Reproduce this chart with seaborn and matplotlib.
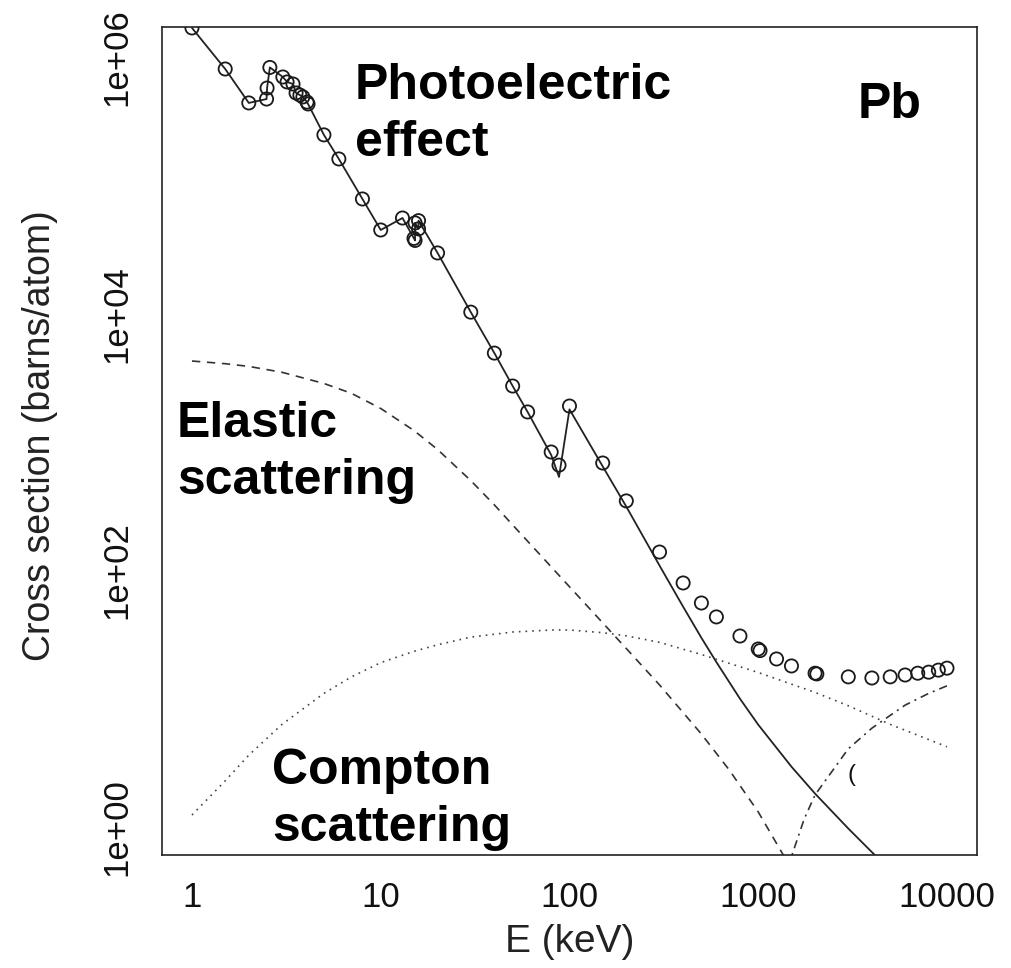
import matplotlib
matplotlib.use("Agg")
import matplotlib.pyplot as plt
from matplotlib.ticker import NullLocator
import seaborn as sns

# ---------------- data ----------------
# total attenuation (open circles), barns/atom
E_total = [1.0, 1.5, 2.0, 2.484, 2.5, 2.586, 3.03, 3.19, 3.43, 3.56, 3.73, 3.87,
           4.07, 4.12, 5, 6, 8, 10, 13.04, 15.0, 15.2, 15.2, 15.86, 15.86, 20,
           30, 40, 50, 60, 80, 88, 100, 150, 200, 300, 400, 500, 600, 800,
           1000, 1022, 1250, 1500, 2000, 2044, 3000, 4000, 5000, 6000, 7000,
           8000, 9000, 10000]
sigma_total = [1.69e6, 8.09e5, 4.40e5, 4.72e5, 5.75e5, 8.32e5, 7.01e5, 6.41e5,
               6.18e5, 5.26e5, 5.07e5, 4.90e5, 4.47e5, 4.32e5, 2.48e5, 1.61e5,
               7.85e4, 4.50e4, 5.58e4, 3.87e4, 3.73e4, 5.11e4, 4.59e4, 5.32e4,
               2.98e4, 1.03e4, 4940, 2735, 1718, 837, 661, 1910, 687, 348, 139,
               79.8, 55.7, 43.4, 30.8, 24.4, 23.7, 20.4, 18.0, 15.8, 15.6, 14.8,
               14.5, 14.8, 15.3, 15.8, 16.1, 16.7, 17.3]

# photoelectric effect (solid line)
E_photo = [1.0, 1.5, 2.0, 2.484, 2.5, 2.586, 3.03, 3.19, 3.43, 3.56, 3.73, 3.87,
           4.07, 4.12, 5, 6, 8, 10, 13.04, 15.0, 15.2, 15.2, 15.86, 15.86, 20,
           30, 40, 50, 60, 80, 88, 100, 150, 200, 300, 400, 500, 600, 800,
           1000, 1500, 2000, 3000, 4000, 5000]
sigma_photo = [1.69e6, 8.09e5, 4.40e5, 4.72e5, 5.75e5, 8.32e5, 7.01e5, 6.41e5,
               6.18e5, 5.26e5, 5.07e5, 4.90e5, 4.47e5, 4.32e5, 2.48e5, 1.61e5,
               7.85e4, 4.50e4, 5.58e4, 3.87e4, 3.73e4, 5.11e4, 4.59e4, 5.32e4,
               2.98e4, 1.03e4, 4940, 2735, 1718, 794, 535, 1800, 646, 314, 109,
               52.1, 29.8, 19.3, 10.0, 6.27, 2.95, 1.82, 0.973, 0.637, 0.461]

# elastic (Rayleigh) scattering (dashed line)
E_elastic = [1, 1.5, 2, 3, 5, 7, 10, 15, 20, 30, 40, 50, 70, 100, 150, 200,
             300, 500, 700, 1000, 1500]
sigma_elastic = [4285, 4083, 3890, 3499, 2864, 2399, 1828, 1230, 876, 501, 324,
                 226, 132, 74.6, 39.0, 24.6, 12.8, 5.30, 2.80, 1.31, 0.47]

# Compton scattering (dotted line)
E_compton = [1, 1.5, 2, 3, 5, 7, 10, 15, 20, 30, 50, 80, 100, 150, 200, 300,
             500, 1000, 2000, 3000, 5000, 7000, 10000]
sigma_compton = [1.24, 2.29, 3.63, 6.31, 11.0, 14.8, 19.1, 23.4, 26.3, 30.2,
                 33.1, 34.3, 34.3, 32.7, 30.9, 27.5, 22.1, 16.0, 11.2, 8.81,
                 6.31, 5.19, 4.22]

# pair production (dot-dash line)
E_pair = [1250, 1500, 1750, 2000, 3000, 4000, 5000, 6000, 8000, 10000]
sigma_pair = [0.10, 0.589, 1.15, 1.78, 4.07, 5.89, 7.41, 8.91, 11.0, 12.6]

x_ticks = [1, 10, 100, 1000, 10000]
x_tick_labels = ["1", "10", "100", "1000", "10000"]
y_ticks = [1, 1e2, 1e4, 1e6]
y_tick_labels = ["1e+00", "1e+02", "1e+04", "1e+06"]

# ---------------- figure ----------------
sns.set_style("white")
plt.rcParams['font.family'] = ['Liberation Sans', 'DejaVu Sans']

W, H = 1012, 968
fig = plt.figure(figsize=(W / 100, H / 100), dpi=100)
L, R, B, T = 162.5, 977, 855, 27
ax = fig.add_axes([L / W, 1 - B / H, (R - L) / W, (B - T) / H])
ax.set_xscale('log')
ax.set_yscale('log')

sns.lineplot(x=E_photo, y=sigma_photo, ax=ax, color='#222222', linewidth=1.3,
             estimator=None, sort=False, zorder=2)
sns.lineplot(x=E_elastic, y=sigma_elastic, ax=ax, color='#333333', linewidth=1.2,
             linestyle=(0, (5, 4)), estimator=None, sort=False, zorder=2)
sns.lineplot(x=E_compton, y=sigma_compton, ax=ax, color='#444444', linewidth=1.2,
             linestyle=(0, (1, 3)), estimator=None, sort=False, zorder=2)
sns.lineplot(x=E_pair, y=sigma_pair, ax=ax, color='#333333', linewidth=1.2,
             linestyle=(0, (1.2, 3, 5, 3)), estimator=None, sort=False, zorder=2)
sns.scatterplot(x=E_total, y=sigma_total, ax=ax, marker='o', s=90,
                facecolor='none', edgecolor='#1a1a1a', linewidth=1.3,
                legend=False, zorder=3)

ax.set_xlim(0.698, 14420)
ax.set_ylim(0.605, 1.719e6)

ax.set_xticks(x_ticks)
ax.set_xticklabels(x_tick_labels)
ax.set_yticks(y_ticks)
ax.set_yticklabels(y_tick_labels)
ax.xaxis.set_minor_locator(NullLocator())
ax.yaxis.set_minor_locator(NullLocator())
ax.tick_params(axis='both', which='major', direction='out', length=10.5,
               width=1.1, labelsize=25, labelcolor='#111111')
ax.tick_params(axis='x', color='#333333', pad=8)
ax.tick_params(axis='y', color='#888888', pad=10.5)
plt.setp(ax.get_yticklabels(), rotation=90, va='center')

for sp in ax.spines.values():
    sp.set_visible(True)
    sp.set_color('#222222')
    sp.set_linewidth(1.2)

ax.set_xlabel("E (keV)", fontsize=28, color='#222222')
ax.set_ylabel("Cross section (barns/atom)", fontsize=27, color='#222222')
ax.xaxis.set_label_coords(0.5, -0.083)
ax.yaxis.set_label_coords(-0.128, 0.507)

bold = dict(fontsize=36, fontweight='bold', color='black', va='top', ha='left',
            linespacing=1.3, transform=ax.transAxes)
ax.text(0.2363, 0.9565, "Photoelectric\neffect", **bold)
ax.text(0.8539, 0.9336, "Pb", **bold)
ax.text(0.0178, 0.5483, "Elastic\nscattering", **bold)
ax.text(0.1344, 0.1292, "Compton\nscattering", **bold)
ax.text(0.8405, 0.0966, "(", fontsize=17, color='#111111', ha='left', va='center',
        transform=ax.transAxes)

fig.savefig("out.png", dpi=100)
